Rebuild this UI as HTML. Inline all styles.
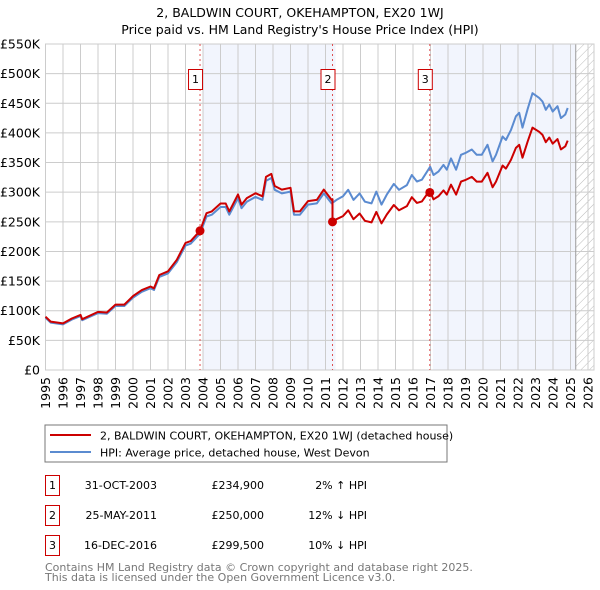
<!DOCTYPE html>
<html><head><meta charset="utf-8"><style>
body{margin:0;width:600px;height:590px;background:#fff;font-family:"DejaVu Sans","Liberation Sans",sans-serif;overflow:hidden}
svg{position:absolute;left:0;top:0}
</style></head><body>
<svg width="600" height="590" id="svg" font-family="DejaVu Sans, Liberation Sans, sans-serif">
<defs><pattern id="hatch" width="6" height="6" patternUnits="userSpaceOnUse" patternTransform="rotate(45)"><line x1="0" y1="0" x2="0" y2="6" stroke="#bbb" stroke-width="1"/></pattern></defs>
<text x="300" y="17" text-anchor="middle" font-size="12.5">2, BALDWIN COURT, OKEHAMPTON, EX20 1WJ</text>
<text x="300" y="34" text-anchor="middle" font-size="12.5">Price paid vs. HM Land Registry's House Price Index (HPI)</text>
<g id="plot"></g>
<rect x="45" y="425" width="402" height="37" fill="#fff" stroke="#777"/>
<line x1="50" y1="435" x2="91" y2="435" stroke="#cc0000" stroke-width="2"/>
<text x="100" y="439.5" font-size="11">2, BALDWIN COURT, OKEHAMPTON, EX20 1WJ (detached house)</text>
<line x1="50" y1="452" x2="91" y2="452" stroke="#5b8bd0" stroke-width="2"/>
<text x="100" y="456.5" font-size="11">HPI: Average price, detached house, West Devon</text>
<g font-size="11">
<rect x="45.5" y="475.5" width="14" height="20" fill="none" stroke="#cc0000"/><text x="52.5" y="489" text-anchor="middle">1</text>
<text x="157" y="489" text-anchor="end">31-OCT-2003</text><text x="264" y="489" text-anchor="end">£234,900</text><text x="367" y="489" text-anchor="end">2% ↑ HPI</text>
<rect x="45.5" y="505.5" width="14" height="20" fill="none" stroke="#cc0000"/><text x="52.5" y="519" text-anchor="middle">2</text>
<text x="157" y="519" text-anchor="end">25-MAY-2011</text><text x="264" y="519" text-anchor="end">£250,000</text><text x="367" y="519" text-anchor="end">12% ↓ HPI</text>
<rect x="45.5" y="535.5" width="14" height="20" fill="none" stroke="#cc0000"/><text x="52.5" y="549" text-anchor="middle">3</text>
<text x="157" y="549" text-anchor="end">16-DEC-2016</text><text x="264" y="549" text-anchor="end">£299,500</text><text x="367" y="549" text-anchor="end">10% ↓ HPI</text>
</g>
<text x="45" y="571" font-size="11" fill="#777">Contains HM Land Registry data © Crown copyright and database right 2025.</text>
<text x="45" y="581" font-size="11" fill="#777">This data is licensed under the Open Government Licence v3.0.</text>
</svg>
<script>
const hpiDates=[1995.0,1995.3,1996.0,1996.5,1997.0,1997.1,1998.0,1998.5,1999.0,1999.5,2000.0,2000.5,2001.0,2001.2,2001.5,2002.0,2002.5,2003.0,2003.3,2003.83,2004.2,2004.5,2005.0,2005.3,2005.5,2006.0,2006.2,2006.5,2007.0,2007.4,2007.6,2007.9,2008.1,2008.5,2009.0,2009.2,2009.54,2010.0,2010.5,2010.9,2011.35,2011.63,2012.0,2012.3,2012.6,2012.95,2013.25,2013.63,2013.9,2014.2,2014.5,2014.9,2015.2,2015.65,2015.93,2016.22,2016.51,2016.98,2017.17,2017.46,2017.74,2017.93,2018.17,2018.46,2018.74,2018.98,2019.36,2019.64,2019.93,2020.26,2020.55,2020.74,2021.12,2021.31,2021.6,2021.88,2022.07,2022.26,2022.55,2022.83,2023.21,2023.4,2023.59,2023.79,2023.98,2024.26,2024.45,2024.7,2024.84];
const hpiValues=[88,80,77,85,91,84,96,95,108,108,122,132,138,135,157,163,182,210,213,230,259,262,275,275,262,290,273,284,292,287,319,324,304,298,301,262,262,279,281,298,281,287,293,304,287,298,284,281,301,279,296,314,304,312,329,318,321,343,329,335,346,338,357,338,363,366,372,363,363,380,352,363,394,388,405,428,434,409,440,467,459,453,439,448,436,445,425,431,442,468,459];
const saleDates=[2003.83,2011.40,2016.96];
const salePrices=[234.9,250.0,299.5];
const yTicks=[0,50,100,150,200,250,300,350,400,450,500,550];
const yTickLabels=["£0","£50K","£100K","£150K","£200K","£250K","£300K","£350K","£400K","£450K","£500K","£550K"];
const xTicks=[1995,1996,1997,1998,1999,2000,2001,2002,2003,2004,2005,2006,2007,2008,2009,2010,2011,2012,2013,2014,2015,2016,2017,2018,2019,2020,2021,2022,2023,2024,2025,2026];
const X0=45.5,X1=588,Y0=370,Y1=44,PR=594;
const x=t=>X0+(t-1995)/(2026-1995)*(X1-X0);
const y=v=>Y0-v/550*(Y0-Y1);
const NS="http://www.w3.org/2000/svg";
const g=document.getElementById('plot');
function mk(tag,attrs){const e=document.createElementNS(NS,tag);for(const k in attrs)e.setAttribute(k,attrs[k]);g.appendChild(e);return e;}
function hpiAt(t){for(let i=1;i<hpiDates.length;i++){if(t<=hpiDates[i]){const a=hpiDates[i-1],b=hpiDates[i];return hpiValues[i-1]+(hpiValues[i]-hpiValues[i-1])*(t-a)/(b-a);}}return hpiValues[hpiValues.length-1];}
let e=mk('rect',{x:x(saleDates[0])+3,y:Y1,width:x(saleDates[1])-x(saleDates[0]),height:Y0-Y1,fill:'#eef2fc',opacity:0.75});


e=mk('rect',{x:x(saleDates[2])+3,y:Y1,width:x(2025.3)-x(saleDates[2])-3,height:Y0-Y1,fill:'#eef2fc',opacity:0.75});


e=mk('rect',{x:x(2025.3),y:Y1,width:PR-x(2025.3),height:Y0-Y1,fill:'url(#hatch)'});


yTicks.forEach((v,i)=>{
 let l=mk('line',{x1:X0,x2:PR,y1:y(v),y2:y(v),stroke:'#ccc','stroke-width':1});
 
 
 let t=mk('text',{x:40,y:y(v)+4.5,'text-anchor':'end','font-size':'12.5'});t.textContent=yTickLabels[i];
 
 
});
xTicks.forEach(v=>{
 let l=mk('line',{x1:x(v),x2:x(v),y1:Y1,y2:Y0,stroke:'#ccc','stroke-width':1});
 
 
 const xx=x(v)+4.5;
 let t=mk('text',{x:xx,y:377,'text-anchor':'end','font-size':'12.5',transform:'rotate(-90 '+xx+' 377)'});t.textContent=v;
 
 
});
e=mk('line',{x1:x(2025.3),x2:x(2025.3),y1:Y1,y2:Y0,stroke:'#999','stroke-width':1});


e=mk('rect',{x:X0,y:Y1,width:PR-X0,height:Y0-Y1,fill:'none',stroke:'#ccc'});


saleDates.forEach((d,i)=>{
 let l=mk('line',{x1:x(d),x2:x(d),y1:Y1,y2:Y0,stroke:'#e05050','stroke-width':1,'stroke-dasharray':'2,3'});
 
 
 let r=mk('rect',{x:x(d)-11.5,y:69.5,width:14,height:20,fill:'#fff',stroke:'#cc0000'});
 
 
 let t=mk('text',{x:x(d)-4.5,y:83,'text-anchor':'middle','font-size':'11'});t.textContent=i+1;
 
 
});
let hp=hpiDates.map((d,i)=>(i?'L':'M')+x(d).toFixed(1)+','+y(hpiValues[i]).toFixed(1)).join('');
e=mk('path',{d:hp,fill:'none',stroke:'#5b8bd0','stroke-width':2,'stroke-linejoin':'round'});


function saleIdx(t){let k=0;for(let i=0;i<saleDates.length;i++)if(t>=saleDates[i])k=i;return k;}
let pts=[];
hpiDates.forEach((d,i)=>{
 const k=saleIdx(d);
 pts.push([d,salePrices[k]*hpiValues[i]/hpiAt(saleDates[k])]);
});
saleDates.forEach((d,k)=>{
 if(k>0) pts.push([d-0.001,salePrices[k-1]*hpiAt(d)/hpiAt(saleDates[k-1])]);
 pts.push([d,salePrices[k]]);
});
pts.sort((a,b)=>a[0]-b[0]);
let rp=pts.map((p,i)=>(i?'L':'M')+x(p[0]).toFixed(1)+','+y(p[1]).toFixed(1)).join('');
e=mk('path',{d:rp,fill:'none',stroke:'#cc0000','stroke-width':2,'stroke-linejoin':'round'});


saleDates.forEach((d,i)=>{
 let c=mk('circle',{cx:x(d),cy:y(salePrices[i]),r:4.5,fill:'#cc0000'});
 
 
});
</script>
</body></html>
